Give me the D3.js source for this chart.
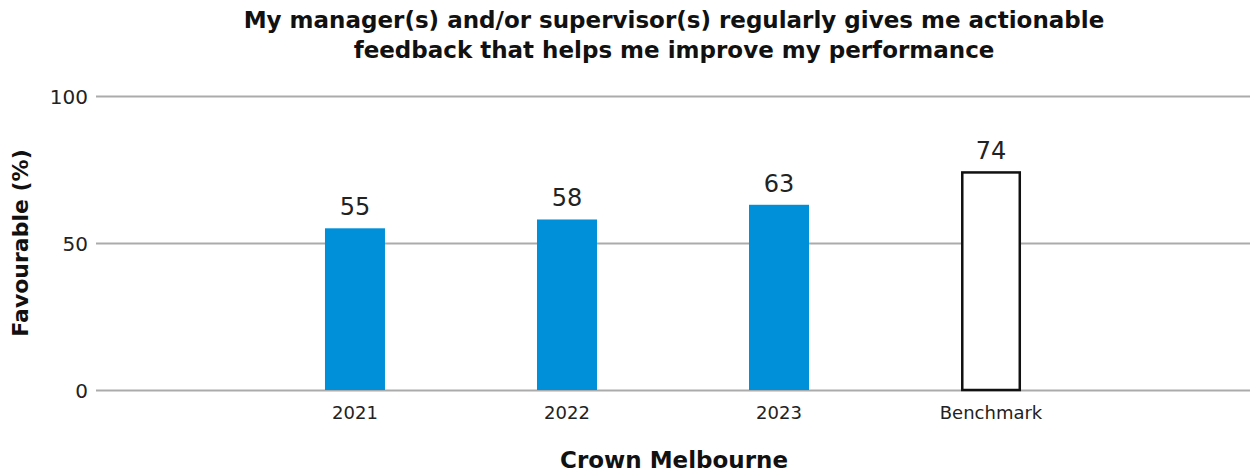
<!DOCTYPE html>
<html><head><meta charset="utf-8">
<script src="https://cdn.jsdelivr.net/npm/d3@7"></script>
<style>body{margin:0;background:#fff;} svg{display:block;} svg text{font-family:"DejaVu Sans", sans-serif;}</style>
</head><body><div id="chart"></div>
<script>
const categories = ["2021", "2022", "2023", "Benchmark"];
const values = [55, 58, 63, 74];
const isBenchmark = [false, false, false, true];
const yTicks = [0, 50, 100];
const titleLines = ["My manager(s) and/or supervisor(s) regularly gives me actionable", "feedback that helps me improve my performance"];
const xTitle = "Crown Melbourne";
const yTitle = "Favourable (%)";

const W = 1257, H = 475;
const m = {left: 96, right: 7, top: 96, bottom: 85};
const svg = d3.select("#chart").append("svg").attr("width", W).attr("height", H);

const x = d3.scaleBand().domain(categories).range([m.left, W - m.right]).paddingInner(0.717).paddingOuter(1.08);
const y = d3.scaleLinear().domain([0, 100]).range([H - m.bottom, m.top]);

// grid
const yAxis = svg.append("g").attr("transform", `translate(${m.left},0)`)
  .call(d3.axisLeft(y).tickValues(yTicks).tickSize(-(W - m.left - m.right)).tickPadding(8));
yAxis.select(".domain").remove();
yAxis.selectAll(".tick line").attr("stroke", "#ababab").attr("stroke-width", 2);
yAxis.selectAll(".tick text").attr("font-size", 20).attr("fill", "#222").attr("dy", "0.35em");

// bars
svg.append("g").selectAll("rect").data(categories).join("rect")
  .attr("x", (d, i) => x(d) + (isBenchmark[i] ? 1.25 : 0))
  .attr("y", (d, i) => y(values[i]))
  .attr("width", (d, i) => x.bandwidth() - (isBenchmark[i] ? 2.5 : 0))
  .attr("height", (d, i) => y(0) - y(values[i]))
  .attr("fill", (d, i) => isBenchmark[i] ? "#fff" : "#0090d9")
  .attr("stroke", (d, i) => isBenchmark[i] ? "#111" : "none")
  .attr("stroke-width", 2.5);

// value labels
svg.append("g").selectAll("text").data(categories).join("text")
  .attr("x", (d) => x(d) + x.bandwidth() / 2)
  .attr("y", (d, i) => y(values[i]) - 13)
  .attr("text-anchor", "middle").attr("font-size", 24).attr("fill", "#222")
  .text((d, i) => values[i]);

// x axis labels
const xAxis = svg.append("g").attr("transform", `translate(0,${y(0)})`)
  .call(d3.axisBottom(x).tickSize(0).tickPadding(16));
xAxis.select(".domain").remove();
xAxis.selectAll(".tick text").attr("font-size", 18).attr("fill", "#222");

// titles
svg.append("g").selectAll("text").data(titleLines).join("text")
  .attr("x", 674).attr("y", (d, i) => 28 + i * 30)
  .attr("text-anchor", "middle").attr("font-size", 23).attr("font-weight", "bold").attr("fill", "#111")
  .text((d) => d);

svg.append("text").attr("x", 674).attr("y", 468).attr("text-anchor", "middle")
  .attr("font-size", 23).attr("font-weight", "bold").attr("fill", "#111").text(xTitle);

svg.append("text").attr("transform", `translate(28,${y(50)}) rotate(-90)`).attr("text-anchor", "middle")
  .attr("font-size", 22).attr("font-weight", "bold").attr("fill", "#111").text(yTitle);
</script></body></html>
